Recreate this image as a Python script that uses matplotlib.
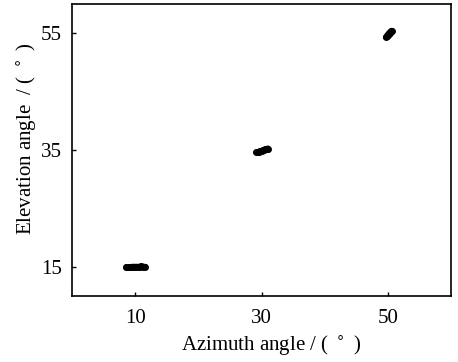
import matplotlib
matplotlib.use("Agg")
import matplotlib.pyplot as plt

plt.rcParams['font.family'] = ['Liberation Serif', 'DejaVu Serif']

# measured target directions (azimuth, elevation) in degrees
az_10 = [8.6, 8.9, 9.2, 9.5, 9.8, 10.1, 10.4, 10.7, 11.0, 11.3, 11.6]
el_10 = [14.9, 14.9, 14.9, 15.0, 15.0, 15.0, 15.0, 15.0, 15.1, 15.0, 15.0]
az_30 = [29.2, 29.4, 29.6, 29.8, 30.0, 30.2, 30.4, 30.6, 30.8, 31.0]
el_30 = [34.6, 34.65, 34.7, 34.8, 34.85, 34.95, 35.0, 35.1, 35.15, 35.25]
az_50 = [49.7, 49.8, 49.9, 50.0, 50.1, 50.2, 50.3, 50.4, 50.5, 50.6]
el_50 = [54.3, 54.45, 54.6, 54.75, 54.85, 54.95, 55.05, 55.15, 55.3, 55.4]

x_ticks = [10, 30, 50]
y_ticks = [15, 35, 55]

fig = plt.figure(figsize=(4.58, 3.62), dpi=100)
ax = fig.add_axes([0.157, 0.182, 0.828, 0.807])

for xs, ys in [(az_10, el_10), (az_30, el_30), (az_50, el_50)]:
    ax.plot(xs, ys, 'o', color='black', markersize=5, markeredgewidth=0)
    ax.plot(xs, ys, '-', color='black', linewidth=4.5, solid_capstyle='round')

ax.set_xlim(0, 60)
ax.set_ylim(10, 60)
ax.set_xticks(x_ticks)
ax.set_yticks(y_ticks)
ax.tick_params(direction='in', length=3, width=1, labelsize=15)
ax.tick_params(axis='x', pad=9)
ax.tick_params(axis='y', pad=7)
for s in ax.spines.values():
    s.set_linewidth(1.2)

ax.set_xlabel('Azimuth angle / ( $^\\circ$ )', fontsize=15)
ax.set_ylabel('Elevation angle  / ( $^\\circ$ )', fontsize=15)
ax.xaxis.set_label_coords(0.525, -0.13)
ax.yaxis.set_label_coords(-0.088, 0.54)

fig.savefig('out.png', dpi=100)
